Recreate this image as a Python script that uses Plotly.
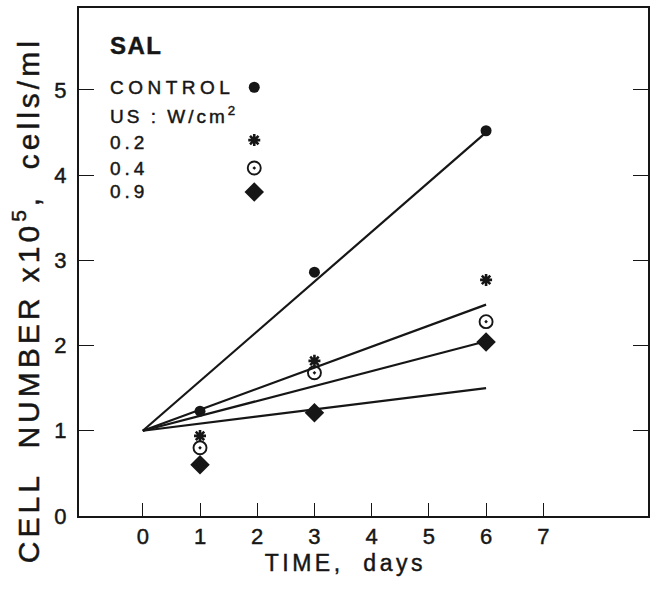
import plotly.graph_objects as go

# ---- data ----
days = [1, 3, 6]
control = [1.23, 2.86, 4.52]
us02 = [0.94, 1.82, 2.77]
us04 = [0.80, 1.68, 2.28]
us09 = [0.60, 1.21, 2.04]

fit_days = [0, 6]
fit_control = [1.0, 4.50]
fit_02 = [1.0, 2.48]
fit_04 = [1.0, 2.05]
fit_09 = [1.0, 1.50]

x_ticks = [0, 1, 2, 3, 4, 5, 6, 7]
y_ticks = [0, 1, 2, 3, 4, 5]

FONT = "Liberation Sans, Arial, sans-serif"
INK = "#161616"

fig = go.Figure()

for fy in [fit_control, fit_02, fit_04, fit_09]:
    fig.add_trace(go.Scatter(x=fit_days, y=fy, mode="lines",
                             line=dict(color=INK, width=2.2), showlegend=False,
                             hoverinfo="skip"))

styles = [
    (control, dict(symbol="circle", size=11, color=INK)),
    (us02, dict(symbol="asterisk-open", size=10, color=INK, line=dict(color=INK, width=2.6))),
    (us04, dict(symbol="circle-open-dot", size=13, color=INK, line=dict(color=INK, width=1.9))),
    (us09, dict(symbol="diamond", size=15, color=INK)),
]
for vals, mk in styles:
    fig.add_trace(go.Scatter(x=days, y=vals, mode="markers", marker=mk, showlegend=False))

# legend markers on an overlay axis (0..1 across the plot area)
leg_mx = 0.308
leg_my = [0.844, 0.740, 0.685, 0.638]
for (vals, mk), ly in zip(styles, leg_my):
    fig.add_trace(go.Scatter(x=[leg_mx], y=[ly], mode="markers", marker=mk,
                             xaxis="x2", yaxis="y2", showlegend=False))

fig.update_layout(
    width=650, height=589,
    margin=dict(l=79, r=0, t=8, b=73),
    paper_bgcolor="white", plot_bgcolor="white",
    font=dict(family=FONT, color=INK),
    xaxis=dict(range=[-1.115, 8.83], tickvals=x_ticks, ticks="inside", ticklen=13,
               tickwidth=1.3, tickcolor=INK, showline=True, linecolor=INK, linewidth=2,
               mirror=True, showgrid=False, zeroline=False,
               tickfont=dict(size=22, family=FONT, color=INK)),
    yaxis=dict(range=[0, 5.96], tickvals=y_ticks, ticks="inside", ticklen=15,
               tickwidth=1.3, tickcolor=INK, showline=True, linecolor=INK, linewidth=2,
               mirror="ticks", showgrid=False, zeroline=False, ticklabelstandoff=6,
               tickfont=dict(size=22, family=FONT, color=INK)),
    xaxis2=dict(range=[0, 1], overlaying="x", visible=False),
    yaxis2=dict(range=[0, 1], overlaying="y", visible=False),
)

spacing = []

fig.add_annotation(text="TIME,  days", xref="paper", yref="paper", x=0.468, y=-0.0925,
                   showarrow=False, font=dict(size=23, family=FONT, color=INK),
                   xanchor="center", yanchor="middle")
spacing.append(3.5)
fig.add_annotation(text="CELL  NUMBER x10<sup>5</sup>,  cells/ml", xref="paper", yref="paper",
                   x=-0.093, y=0.425, textangle=-90, showarrow=False,
                   font=dict(size=30, family=FONT, color=INK),
                   xanchor="center", yanchor="middle")
spacing.append(4.0)

legend_text = [
    ("SAL", 0.0508, 0.927, 24, 1.5),
    ("CONTROL", 0.0508, 0.844, 19, 4.5),
    ("US : W/cm<sup>2</sup>", 0.0508, 0.789, 19, 3.0),
    ("0.2", 0.0508, 0.736, 19, 4.0),
    ("0.4", 0.0508, 0.685, 19, 4.0),
    ("0.9", 0.0508, 0.638, 19, 4.0),
]
for t, lx, ly, sz, sp in legend_text:
    fig.add_annotation(text=t, xref="paper", yref="paper", x=lx, y=ly, showarrow=False,
                       xanchor="left", yanchor="middle", align="left",
                       font=dict(size=sz, family=FONT, color=INK,
                                 weight="bold" if t == "SAL" else "normal"))
    spacing.append(sp)

post = """
document.body.style.margin = '0';
var sp = %s;
document.querySelectorAll('.annotation').forEach(function(a){
  var i = +a.getAttribute('data-index');
  var t = a.querySelector('.annotation-text');
  if (t && sp[i] != null) { t.style.letterSpacing = sp[i] + 'px'; }
});
document.querySelectorAll('svg text').forEach(function(t){
  t.style.stroke = '%s';
  t.style.strokeWidth = '0.45px';
});
""" % (str(spacing), INK)

fig.write_html("out.html", post_script=post, config={"displayModeBar": False})
